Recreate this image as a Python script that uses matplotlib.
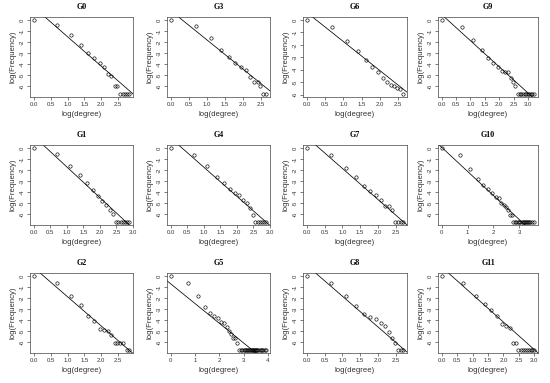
import matplotlib
matplotlib.use("Agg")
import matplotlib.pyplot as plt
import numpy as np

# log(degree) / log(Frequency), one set per graph
g0_x = [0, 0.69, 1.10, 1.39, 1.61, 1.79, 1.95, 2.08, 2.20, 2.30, 2.40, 2.48]
g0_y = [0, -0.46, -1.38, -2.25, -3.0, -3.45, -3.88, -4.25, -4.86, -5.1, -6.02, -6.02]
g0_tail_x = [2.56, 2.64, 2.71, 2.77, 2.83]

g3_x = [0, 0.69, 1.10, 1.39, 1.61, 1.79, 1.95, 2.08, 2.20, 2.30, 2.40, 2.48]
g3_y = [0, -0.55, -1.6, -2.7, -3.38, -3.88, -4.25, -4.52, -5.14, -5.6, -5.6, -6.02]
g3_tail_x = [2.56, 2.64]

g6_x = [0, 0.69, 1.10, 1.39, 1.61, 1.79, 1.95, 2.08, 2.20, 2.30, 2.40, 2.48, 2.56, 2.64]
g6_y = [0, -0.6, -1.68, -2.49, -3.24, -3.78, -4.14, -4.68, -5.0, -5.22, -5.27, -5.46, -5.54, -5.95]
g6_tail_x = []

g9_x = [0, 0.69, 1.10, 1.39, 1.61, 1.79, 1.95, 2.08, 2.20, 2.30, 2.40, 2.48, 2.56]
g9_y = [0, -0.62, -1.85, -2.77, -3.45, -3.88, -4.25, -4.6, -4.68, -4.74, -5.3, -5.63, -6.02]
g9_tail_x = [2.64, 2.71, 2.77, 2.83, 2.89, 2.94, 3.00, 3.04, 3.09, 3.14, 3.22]

g1_x = [0, 0.69, 1.10, 1.39, 1.61, 1.79, 1.95, 2.08, 2.20, 2.30, 2.40]
g1_y = [0, -0.55, -1.63, -2.46, -3.17, -3.85, -4.37, -4.77, -5.14, -5.63, -6.02]
g1_tail_x = [2.48, 2.56, 2.64, 2.71, 2.77, 2.83, 2.89]

g4_x = [0, 0.69, 1.10, 1.39, 1.61, 1.79, 1.95, 2.08, 2.20, 2.30, 2.40, 2.48]
g4_y = [0, -0.62, -1.63, -2.62, -3.14, -3.69, -4.09, -4.25, -4.68, -5.0, -5.42, -6.02]
g4_tail_x = [2.56, 2.64, 2.71, 2.77, 2.83, 2.89]

g7_x = [0, 0.69, 1.10, 1.39, 1.61, 1.79, 1.95, 2.08, 2.20, 2.30, 2.40]
g7_y = [0, -0.67, -1.83, -2.66, -3.46, -3.85, -4.22, -4.74, -5.26, -5.29, -5.6]
g7_tail_x = [2.48, 2.56, 2.64, 2.71]

g10_x = [0, 0.69, 1.10, 1.39, 1.61, 1.79, 1.95, 2.08, 2.20, 2.30, 2.40, 2.48, 2.56, 2.64, 2.71]
g10_y = [0, -0.61, -1.9, -2.82, -3.37, -3.68, -4.04, -4.4, -4.53, -4.96, -5.15, -5.36, -5.64,
         -6.02, -6.02]
g10_tail_x = [2.77, 2.83, 2.89, 2.94, 3.00, 3.04, 3.09, 3.14, 3.18, 3.22, 3.26, 3.30, 3.33,
              3.37, 3.43, 3.50, 3.58]

g2_x = [0, 0.69, 1.10, 1.39, 1.61, 1.79, 1.95, 2.08, 2.20, 2.30, 2.40, 2.48, 2.56, 2.64]
g2_y = [0, -0.61, -1.83, -2.66, -3.58, -4.07, -4.8, -4.92, -4.98, -5.35, -6.02, -6.02, -6.02, -6.02]
g2_tail_x = [2.77, 2.83]

g5_x = [0, 0.69, 1.10, 1.39, 1.61, 1.79, 1.95, 2.08, 2.20, 2.30, 2.40, 2.48, 2.56, 2.64, 2.71]
g5_y = [0, -0.61, -1.83, -2.81, -3.36, -3.61, -3.82, -4.13, -4.28, -4.59, -4.98, -5.29, -5.6,
        -5.6, -6.02]
g5_tail_x = [2.83, 2.89, 2.94, 3.00, 3.04, 3.09, 3.14, 3.18, 3.22, 3.26, 3.30, 3.33, 3.37,
             3.40, 3.43, 3.47, 3.50, 3.53, 3.56, 3.61, 3.66, 3.71, 3.76, 3.81, 3.87, 3.93]

g8_x = [0, 0.69, 1.10, 1.39, 1.61, 1.79, 1.95, 2.08, 2.20, 2.30, 2.40, 2.48]
g8_y = [0, -0.61, -1.83, -2.75, -3.46, -3.7, -3.88, -4.22, -4.53, -5.11, -5.6, -6.02]
g8_tail_x = [2.56, 2.64, 2.71]

g11_x = [0, 0.69, 1.10, 1.39, 1.61, 1.79, 1.95, 2.08, 2.20, 2.30, 2.40]
g11_y = [0, -0.61, -1.83, -2.51, -3.12, -3.58, -4.34, -4.5, -4.74, -6.02, -6.02]
g11_tail_x = [2.48, 2.56, 2.64, 2.71, 2.77, 2.83, 2.89, 2.94, 3.00]

# frequency of the single-count degrees (bottom row), one per graph
tail_y = {"G0": -6.72, "G3": -6.72, "G6": None, "G9": -6.72,
          "G1": -6.72, "G4": -6.70, "G7": -6.70, "G10": -6.70,
          "G2": -6.70, "G5": -6.70, "G8": -6.70, "G11": -6.70}

# fitted line: intercept, slope
fit_a = {"G0": 1.15, "G3": 0.84, "G6": 0.60, "G9": 0.49, "G1": 1.06, "G4": 0.89,
         "G7": 0.96, "G10": 0.06, "G2": 0.76, "G5": -0.72, "G8": 0.95, "G11": 0.81}
fit_b = {"G0": -2.67, "G3": -2.65, "G6": -2.33, "G9": -2.37, "G1": -2.78, "G4": -2.63,
         "G7": -2.81, "G10": -2.18, "G2": -2.64, "G5": -1.78, "G8": -2.78, "G11": -2.49}

# grid order, row by row
names = ["G0", "G3", "G6", "G9", "G1", "G4", "G7", "G10", "G2", "G5", "G8", "G11"]
data = {
    "G0": (g0_x, g0_y, g0_tail_x), "G3": (g3_x, g3_y, g3_tail_x),
    "G6": (g6_x, g6_y, g6_tail_x), "G9": (g9_x, g9_y, g9_tail_x),
    "G1": (g1_x, g1_y, g1_tail_x), "G4": (g4_x, g4_y, g4_tail_x),
    "G7": (g7_x, g7_y, g7_tail_x), "G10": (g10_x, g10_y, g10_tail_x),
    "G2": (g2_x, g2_y, g2_tail_x), "G5": (g5_x, g5_y, g5_tail_x),
    "G8": (g8_x, g8_y, g8_tail_x), "G11": (g11_x, g11_y, g11_tail_x),
}
xstep = {"G10": 1.0, "G5": 1.0}

W, H = 550, 383
col_left = [30, 167, 303, 438]
col_w = [103, 103, 104, 100]
row_top = [17, 145, 273]
ax_h = 80

plt.rcParams["font.family"] = ["Liberation Sans", "DejaVu Sans"]
fig = plt.figure(figsize=(W / 100, H / 100), dpi=100)

for i, name in enumerate(names):
    r, c = divmod(i, 4)
    ax = fig.add_axes([col_left[c] / W, (H - row_top[r] - ax_h) / H, col_w[c] / W, ax_h / H])
    xs, ys, tx = data[name]
    ty = [tail_y[name]] * len(tx)
    allx = np.array(list(xs) + list(tx))
    ally = np.array(list(ys) + ty)
    # R-style 4% padding
    px = 0.04 * (allx.max() - allx.min())
    py = 0.04 * (ally.max() - ally.min())
    xlo, xhi = allx.min() - px, allx.max() + px
    ylo, yhi = ally.min() - py, ally.max() + py
    ax.plot(allx, ally, "o", mfc="none", mec="black", ms=2.4, mew=0.45)
    ax.axline((0, fit_a[name]), slope=fit_b[name], color="black", lw=0.55)
    ax.set_xlim(xlo, xhi)
    ax.set_ylim(ylo, yhi)

    step = xstep.get(name, 0.5)
    xt = [v for v in np.arange(0, xhi + 1e-9, step) if v >= xlo]
    ax.set_xticks(xt)
    ax.set_xticklabels([f"{v:.0f}" if step == 1.0 else f"{v:.1f}" for v in xt])
    yt = [v for v in range(0, -7, -1) if ylo <= v <= yhi]
    ax.set_yticks(yt)
    ax.set_yticklabels([str(v) for v in yt], rotation=90, va="center")

    ax.tick_params(direction="out", length=2.2, width=0.45, labelsize=4.3, pad=1.5,
                   colors="#333333")
    for s in ax.spines.values():
        s.set_linewidth(0.5)
        s.set_color("#444444")
    ax.set_xlabel("log(degree)", fontsize=5.6, labelpad=2.5, color="#333333")
    ax.set_ylabel("log(Frequency)", fontsize=5.6, labelpad=2.5, color="#333333")
    ax.set_title(name, fontsize=5.8, fontweight="bold", family="Liberation Serif", pad=6)

fig.savefig("out.png", dpi=100)
